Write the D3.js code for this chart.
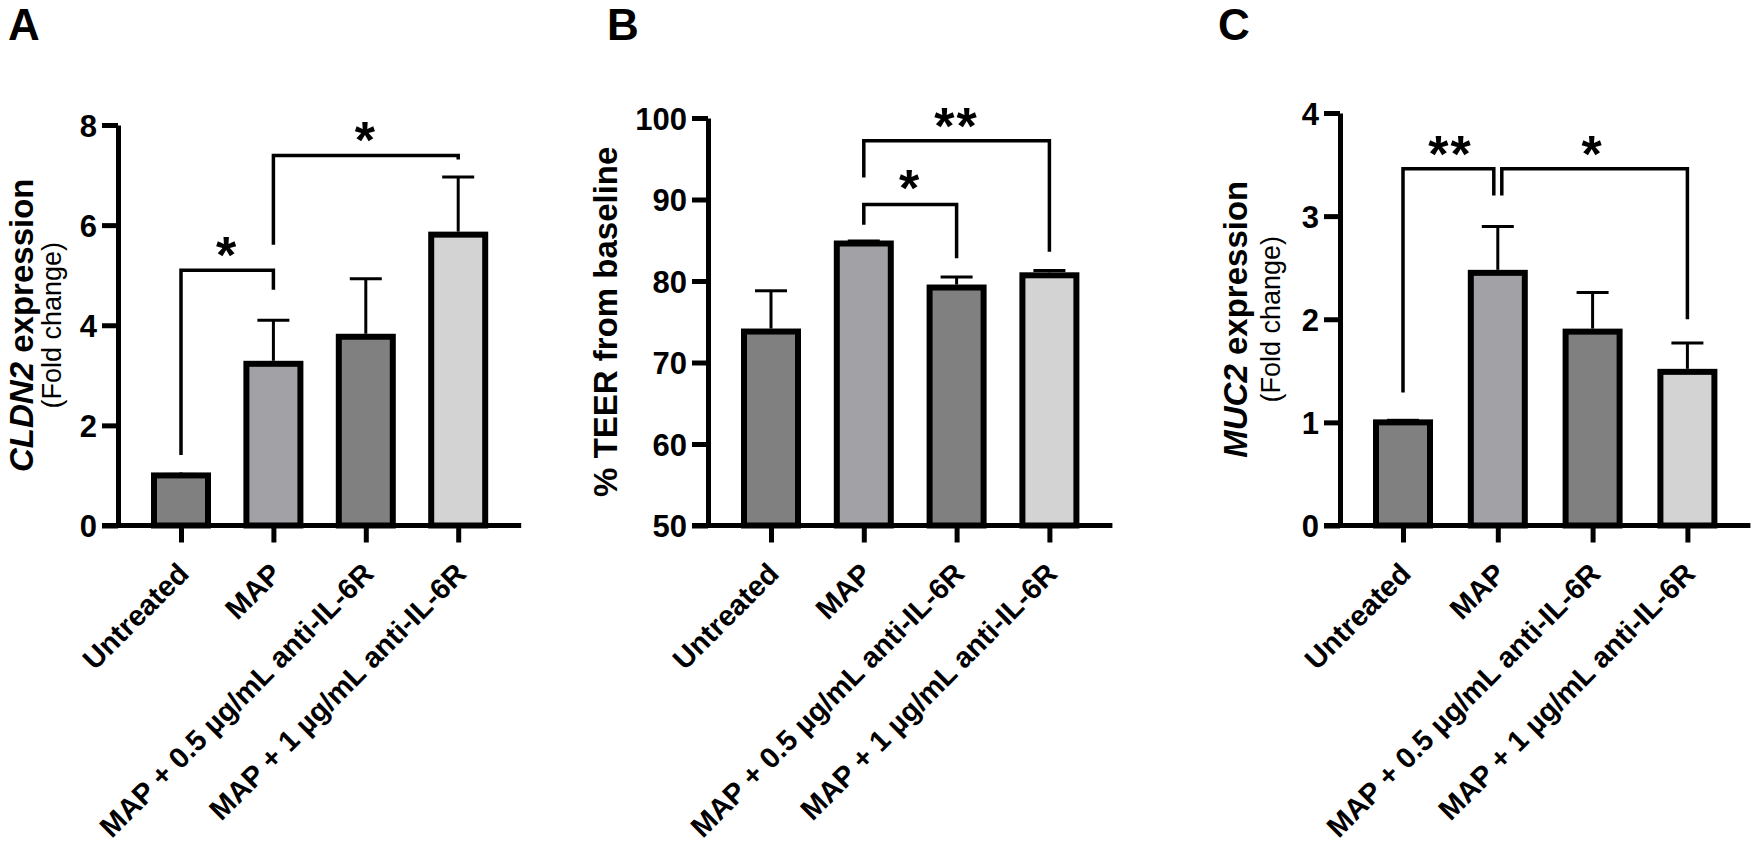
<!DOCTYPE html>
<html>
<head>
<meta charset="utf-8">
<script src="https://cdn.jsdelivr.net/npm/d3@7"></script>
<style>
  body { margin: 0; background: #fff; }
  svg { display: block; font-family: Arial, "Liberation Sans", sans-serif; }
</style>
</head>
<body>
<svg id="chart" width="1758" height="860"></svg>
<script>
"use strict";

const categories = ["Untreated", "MAP", "MAP + 0.5 µg/mL anti-IL-6R", "MAP + 1 µg/mL anti-IL-6R"];
const barFills = ["#808080", "#a2a2a6", "#808080", "#d3d3d3"];

// A: CLDN2 fold change
const cldn2Mean = [1.0, 3.23, 3.77, 5.81];
const cldn2Sem = [0.02, 0.87, 1.16, 1.15];
const cldn2Ticks = [0, 2, 4, 6, 8];
const cldn2Brackets = [
  { from: 0, to: 1, y: 5.1, leftEnd: 1.41, rightEnd: 4.71, label: "*", labelY: 5.64 },
  { from: 1, to: 3, y: 7.39, leftEnd: 5.61, rightEnd: 7.31, label: "*", labelY: 7.93 }
];

// B: TEER
const teerMean = [73.8, 84.6, 79.2, 80.7];
const teerSem = [5.0, 0.3, 1.3, 0.6];
const teerTicks = [50, 60, 70, 80, 90, 100];
const teerBrackets = [
  { from: 1, to: 2, y: 89.4, leftEnd: 86.9, rightEnd: 82.8, label: "*", labelY: 92.8 },
  { from: 1, to: 3, y: 97.2, leftEnd: 92.7, rightEnd: 83.6, label: "**", labelY: 100.4 }
];

// C: MUC2 fold change
const muc2Mean = [1.0, 2.45, 1.88, 1.49];
const muc2Sem = [0.02, 0.45, 0.38, 0.28];
const muc2Ticks = [0, 1, 2, 3, 4];
const muc2Brackets = [
  { from: 0, to: 1, y: 3.46, leftEnd: 1.29, rightEnd: 3.2, label: "**", labelY: 3.72, dxTo: -4 },
  { from: 1, to: 3, y: 3.46, leftEnd: 3.2, rightEnd: 2.0, label: "*", labelY: 3.72, dxFrom: 4 }
];

const svg = d3.select("#chart");
const baseY = 525.5;
const font = "Arial, 'Liberation Sans', sans-serif";

const panels = [
  { letter: "A", letterX: 8, axisX: 118, top: 125, step: 92.4, domain: [0, 8], ticks: cldn2Ticks,
    mean: cldn2Mean, sem: cldn2Sem, brackets: cldn2Brackets, titleX: [-85, -57],
    title: [{ it: "CLDN2", rest: " expression" }, { rest: "(Fold change)", small: true }] },
  { letter: "B", letterX: 607, axisX: 708, top: 118, step: 92.8, domain: [50, 100], ticks: teerTicks,
    mean: teerMean, sem: teerSem, brackets: teerBrackets, titleX: [-91],
    title: [{ rest: "% TEER from baseline" }] },
  { letter: "C", letterX: 1218, axisX: 1340, top: 113, step: 94.8, domain: [0, 4], ticks: muc2Ticks,
    mean: muc2Mean, sem: muc2Sem, brackets: muc2Brackets, titleX: [-93, -60],
    title: [{ it: "MUC2", rest: " expression" }, { rest: "(Fold change)", small: true }] }
];

panels.forEach(drawPanel);

function drawPanel(p) {
  const g = svg.append("g");
  const barW = 60;
  const n = categories.length;

  const y = d3.scaleLinear().domain(p.domain).range([baseY, p.top]);
  const x = d3.scalePoint().domain(d3.range(n))
    .range([p.axisX + 63, p.axisX + 63 + p.step * (n - 1)]);

  // panel letter
  g.append("text").attr("x", p.letterX).attr("y", 40)
    .attr("font-size", 44).attr("font-weight", "bold").text(p.letter);

  // bars
  g.selectAll("rect.bar").data(p.mean).join("rect")
    .attr("class", "bar")
    .attr("x", (d, i) => x(i) - barW / 2 + 3)
    .attr("width", barW - 6)
    .attr("y", d => y(d))
    .attr("height", d => baseY - y(d))
    .attr("fill", (d, i) => barFills[i])
    .attr("stroke", "#000").attr("stroke-width", 6);

  // error bars (upper only)
  const err = g.selectAll("g.err").data(p.mean).join("g").attr("class", "err");
  err.append("line")
    .attr("x1", (d, i) => x(i)).attr("x2", (d, i) => x(i))
    .attr("y1", d => y(d) - 3).attr("y2", (d, i) => y(d + p.sem[i]))
    .attr("stroke", "#000").attr("stroke-width", 3);
  err.append("line")
    .attr("x1", (d, i) => x(i) - 16).attr("x2", (d, i) => x(i) + 16)
    .attr("y1", (d, i) => y(d + p.sem[i])).attr("y2", (d, i) => y(d + p.sem[i]))
    .attr("stroke", "#000").attr("stroke-width", 3);

  // y axis
  const yAxis = g.append("g").attr("transform", `translate(${p.axisX},0)`)
    .call(d3.axisLeft(y).tickValues(p.ticks).tickFormat(d3.format("d"))
      .tickSize(16).tickSizeOuter(0).tickPadding(5));
  yAxis.select(".domain").attr("stroke-width", 5);
  yAxis.selectAll(".tick line").attr("stroke-width", 5);
  yAxis.selectAll(".tick text").attr("font-size", 31).attr("font-weight", "bold")
    .attr("font-family", font).attr("dy", "0.36em");

  // x axis
  g.append("line")
    .attr("x1", p.axisX - 16).attr("x2", x(n - 1) + barW / 2 + 33)
    .attr("y1", baseY).attr("y2", baseY)
    .attr("stroke", "#000").attr("stroke-width", 5);
  const xAxis = g.append("g").attr("transform", `translate(0,${baseY})`)
    .call(d3.axisBottom(x).tickSize(17).tickFormat(i => categories[i]));
  xAxis.select(".domain").remove();
  xAxis.selectAll(".tick line").attr("stroke-width", 5);
  xAxis.selectAll(".tick text")
    .attr("font-size", 29).attr("font-weight", "bold")
    .attr("font-family", font)
    .attr("text-anchor", "end")
    .attr("x", 0).attr("y", 0).attr("dy", 0)
    .attr("transform", "translate(9,50) rotate(-45)");

  // y title
  const midY = (baseY + p.top) / 2;
  p.title.forEach((line, k) => {
    const t = g.append("text")
      .attr("transform", `translate(${p.axisX + p.titleX[k]},${midY}) rotate(-90)`)
      .attr("text-anchor", "middle")
      .attr("font-size", line.small ? 27 : 33)
      .attr("font-weight", line.small ? "normal" : "bold");
    if (line.it) t.append("tspan").attr("font-style", "italic").text(line.it);
    t.append("tspan").text(line.rest);
  });

  // significance brackets
  const path = d3.line();
  p.brackets.forEach(b => {
    const xa = x(b.from) + (b.dxFrom || 0);
    const xb = x(b.to) + (b.dxTo || 0);
    g.append("path")
      .attr("d", path([[xa, y(b.leftEnd)], [xa, y(b.y)], [xb, y(b.y)], [xb, y(b.rightEnd)]]))
      .attr("fill", "none").attr("stroke", "#000").attr("stroke-width", 3.5);
    g.append("text")
      .attr("x", (x(b.from) + x(b.to)) / 2)
      .attr("y", y(b.labelY) + 0.57 * 52)
      .attr("text-anchor", "middle")
      .attr("font-size", 52).attr("font-weight", "bold")
      .attr("letter-spacing", 2)
      .text(b.label);
  });
}
</script>
</body>
</html>
